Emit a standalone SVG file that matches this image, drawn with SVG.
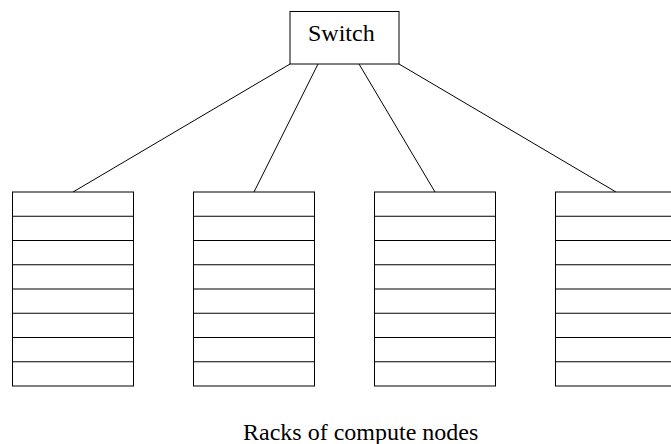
<svg xmlns="http://www.w3.org/2000/svg" width="671" height="444" viewBox="0 0 671 444">
<style>
.b{fill:#fff;stroke:#000;stroke-width:1}
.l{stroke:#000;stroke-width:1;fill:none}
.t{font-family:"Liberation Serif","Times New Roman",serif;font-size:24px;fill:#000}
</style>
<defs>
<g id="rack">
<rect class="b" x="0" y="0" width="121" height="194"/>
<path class="l" d="M0 24.25H121M0 48.5H121M0 72.75H121M0 97H121M0 121.25H121M0 145.5H121M0 169.75H121"/>
</g>
</defs>
<rect width="671" height="444" fill="#fff"/>
<g id="connectors">
<line class="l" x1="290" y1="64" x2="73" y2="192"/>
<line class="l" x1="318" y1="64" x2="254" y2="192"/>
<line class="l" x1="359" y1="64" x2="435" y2="192"/>
<line class="l" x1="399" y1="64" x2="616" y2="192"/>
</g>
<g id="switch">
<rect class="b" x="290" y="11.5" width="109" height="52.5"/>
<text class="t" x="308" y="41">Switch</text>
</g>
<g id="rack1"><use href="#rack" x="12.5" y="192"/></g>
<g id="rack2"><use href="#rack" x="193.5" y="192"/></g>
<g id="rack3"><use href="#rack" x="374.5" y="192"/></g>
<g id="rack4"><use href="#rack" x="555.5" y="192"/></g>
<text class="t" x="243" y="440">Racks of compute nodes</text>
</svg>
